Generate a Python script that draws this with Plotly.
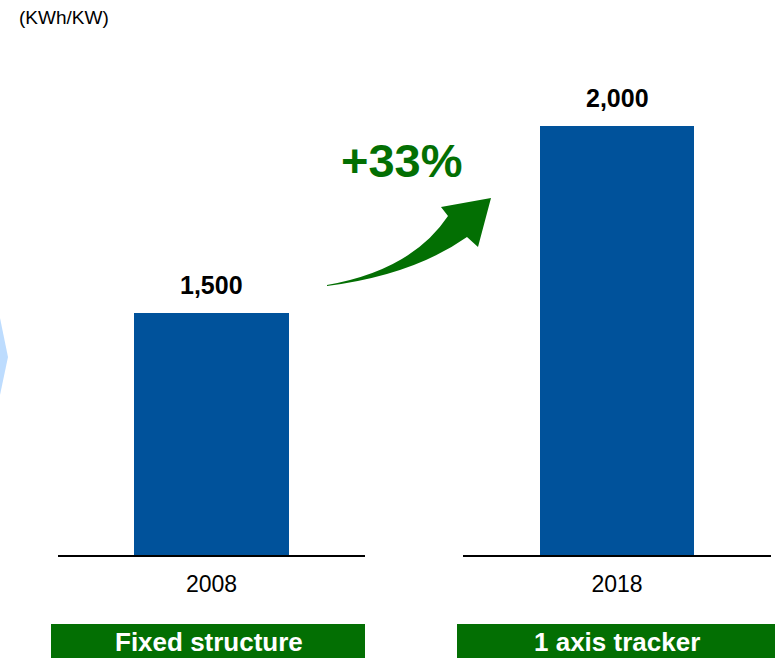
import plotly.graph_objects as go

# ---- data ----
years = ["2008", "2018"]
values = [1500, 2000]
value_labels = ["1,500", "2,000"]
structures = ["Fixed structure", "1 axis tracker"]
unit_label = "(KWh/KW)"

W, H = 775, 658
BAR = "#00529b"
GREEN = "#036f03"
FONT = "Liberation Sans"

def px(x):
    return x / W

def py(y):
    return 1 - y / H

def path_px(cmds):
    out = []
    for c in cmds:
        if isinstance(c, str):
            out.append(c)
        else:
            out.append(f"{px(c[0]):.5f},{py(c[1]):.5f}")
    return " ".join(out)

base_y = 555
ydom = [py(base_y), 1.0]
# per-panel value scales (the source panels are drawn on separate scales)
y_max = [3440, 2587]
xdoms = [[px(58), px(365)], [px(463), px(771)]]
bar_w = [0.505, 0.5]

fig = go.Figure()
for i in range(2):
    sfx = "" if i == 0 else str(i + 1)
    fig.add_trace(go.Bar(
        x=[years[i]], y=[values[i]], width=bar_w[i],
        text=[value_labels[i]], textposition="none",
        marker=dict(color=BAR, line=dict(width=0)),
        xaxis="x" + sfx, yaxis="y" + sfx, showlegend=False, hoverinfo="skip",
    ))
    fig.add_annotation(
        x=0, y=values[i], xref="x" + sfx, yref="y" + sfx,
        text=value_labels[i], showarrow=False, yanchor="middle", yshift=28,
        font=dict(family=FONT, size=25, color="black", weight="bold"),
    )

axis_common = dict(type="category", showgrid=False, zeroline=False, showline=True, linecolor="black",
                   linewidth=2, ticks="", tickfont=dict(family=FONT, size=23, color="black"),
                   ticklabelstandoff=7, automargin=False, fixedrange=True)
yaxis_common = dict(showticklabels=False, showgrid=False, zeroline=False, showline=False,
                    ticks="", automargin=False, fixedrange=True)

fig.update_layout(
    width=W, height=H,
    margin=dict(l=0, r=0, t=0, b=0),
    paper_bgcolor="white", plot_bgcolor="rgba(0,0,0,0)",
    xaxis=dict(domain=xdoms[0], anchor="y", range=[-0.5, 0.5], **axis_common),
    yaxis=dict(domain=ydom, anchor="x", range=[0, y_max[0]], **yaxis_common),
    xaxis2=dict(domain=xdoms[1], anchor="y2", range=[-0.5, 0.5], **axis_common),
    yaxis2=dict(domain=ydom, anchor="x2", range=[0, y_max[1]], **yaxis_common),
    bargap=0,
)

# unit label
fig.add_annotation(x=px(17), y=py(17), xref="paper", yref="paper", text=unit_label,
                   showarrow=False, xanchor="left", yanchor="middle",
                   font=dict(family=FONT, size=19, color="black"))

# growth label
pct = round((values[1] / values[0] - 1) * 100)
fig.add_annotation(x=px(402), y=py(160), xref="paper", yref="paper", text=f"+{pct}%",
                   showarrow=False, xanchor="center", yanchor="middle",
                   font=dict(family=FONT, size=47, color=GREEN, weight="bold"))

# curved arrow
arrow = path_px(["M", (327, 285), "Q", (412, 270), (448, 216), "L", (441, 207), "L", (491, 198),
                 "L", (478, 247), "L", (467, 237), "Q", (413, 275), (327, 286), "Z"])
fig.add_shape(type="path", path=arrow, xref="paper", yref="paper",
              fillcolor=GREEN, line=dict(width=0))

# light blue chevron at left edge
chev = path_px(["M", (-10, 318), "L", (0, 318), "L", (8, 357), "L", (0, 395), "L", (-10, 395), "Z"])
fig.add_shape(type="path", path=chev, xref="paper", yref="paper",
              fillcolor="#bddcfe", line=dict(width=0))

# structure boxes
boxes = [(51, 365), (457, 776)]
for (x0, x1), lab in zip(boxes, structures):
    fig.add_shape(type="rect", xref="paper", yref="paper", x0=px(x0), x1=px(x1),
                  y0=py(624), y1=py(660), fillcolor=GREEN, line=dict(width=0))
    fig.add_annotation(x=px((x0 + min(x1, 775)) / 2 + 1), y=py(642), xref="paper", yref="paper",
                       text=lab, showarrow=False, xanchor="center", yanchor="middle",
                       font=dict(family=FONT, size=26, color="white", weight="bold"))

fig.write_html("out.html")
